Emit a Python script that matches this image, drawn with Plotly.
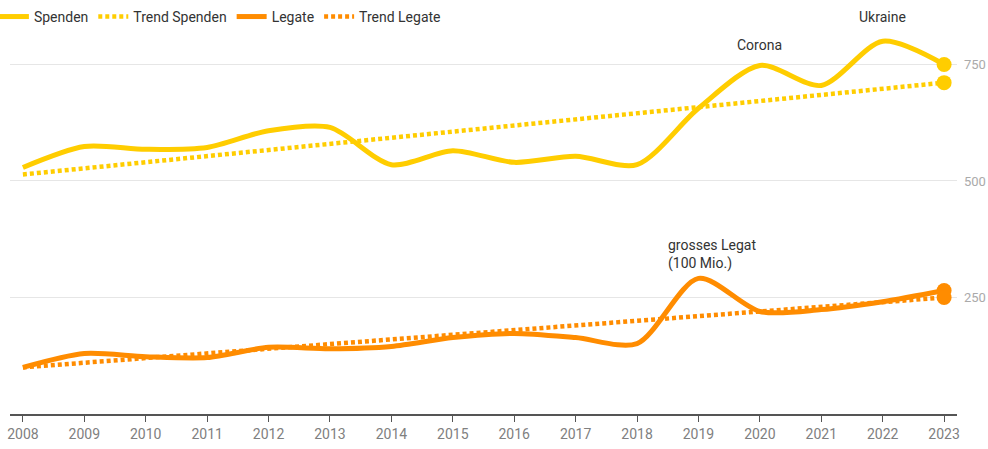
import plotly.graph_objects as go

years = list(range(2008, 2024))
spenden = [529, 574, 568, 572, 608, 615, 535, 565, 540, 553, 535, 656, 748, 705, 800, 750]
legate = [100, 130, 123, 121, 143, 140, 145, 164, 173, 164, 151, 291, 220, 224, 241, 265]
trend_spenden_ends = [514, 711]
trend_legate_ends = [100, 250]
y_ticks = [250, 500, 750]

YELLOW = "#ffcd00"
ORANGE = "#ff8c00"

def trend(ends):
    a, b = ends
    n = len(years) - 1
    return [a + (b - a) * i / n for i in range(len(years))]

DOT = "4px,3px"

series = [
    ("Spenden", spenden, YELLOW, False),
    ("Trend Spenden", trend(trend_spenden_ends), YELLOW, True),
    ("Legate", legate, ORANGE, False),
    ("Trend Legate", trend(trend_legate_ends), ORANGE, True),
]

fig = go.Figure()
for name, vals, color, dotted in series:
    if dotted:
        line = dict(color=color, width=4.5, dash=DOT)
    else:
        line = dict(color=color, width=5, shape="spline", smoothing=0.8)
    fig.add_trace(go.Scatter(x=years, y=vals, name=name, mode="lines", line=line,
                             hoverinfo="skip"))
for name, vals, color, dotted in series:
    fig.add_trace(go.Scatter(x=[years[-1]], y=[vals[-1]], mode="markers", showlegend=False,
                             marker=dict(size=15, color=color), hoverinfo="skip",
                             cliponaxis=False))

ann_font = dict(family="Roboto, sans-serif", size=14, color="#333333")
fig.add_annotation(x=2020, y=771, text="Corona", showarrow=False, font=ann_font,
                   xanchor="center", yanchor="bottom")
fig.add_annotation(x=2022, xref="x", y=1.034, yref="paper", text="Ukraine", showarrow=False,
                   font=ann_font, xanchor="center", yanchor="middle")
fig.add_annotation(x=2018.47, y=301, text="grosses Legat<br>(100 Mio.)", showarrow=False,
                   font=ann_font, xanchor="left", yanchor="bottom", align="left")

fig.update_layout(
    width=988, height=449,
    margin=dict(l=10, r=31, t=30, b=35, autoexpand=False),
    plot_bgcolor="white", paper_bgcolor="white",
    font=dict(family="Roboto, sans-serif", size=14, color="#333333"),
    showlegend=True,
    hovermode=False,
    legend=dict(orientation="h", x=-0.017, y=1.034, xanchor="left", yanchor="middle",
                font=dict(size=14, color="#333333"),
                itemwidth=30, traceorder="normal", tracegroupgap=0),
    xaxis=dict(range=[2007.79, 2023.21], tickmode="array", tickvals=years,
               ticktext=[str(y) for y in years], showgrid=False, automargin=False,
               showline=True, linecolor="#555555", linewidth=2,
               ticks="outside", ticklen=6, tickcolor="#555555",
               tickfont=dict(size=14, color="#808080"), zeroline=False),
    yaxis=dict(range=[0, 824], side="right", tickvals=y_ticks, automargin=False,
               showgrid=True, gridcolor="#e6e6e6", gridwidth=1,
               showline=False, zeroline=False, ticks="", ticklabelstandoff=6,
               tickfont=dict(size=13, color="#aaaaaa")),
)

fig.write_html("out.html", config={"displayModeBar": False},
               post_script="document.body.style.margin='0';document.body.style.overflow='hidden';")
